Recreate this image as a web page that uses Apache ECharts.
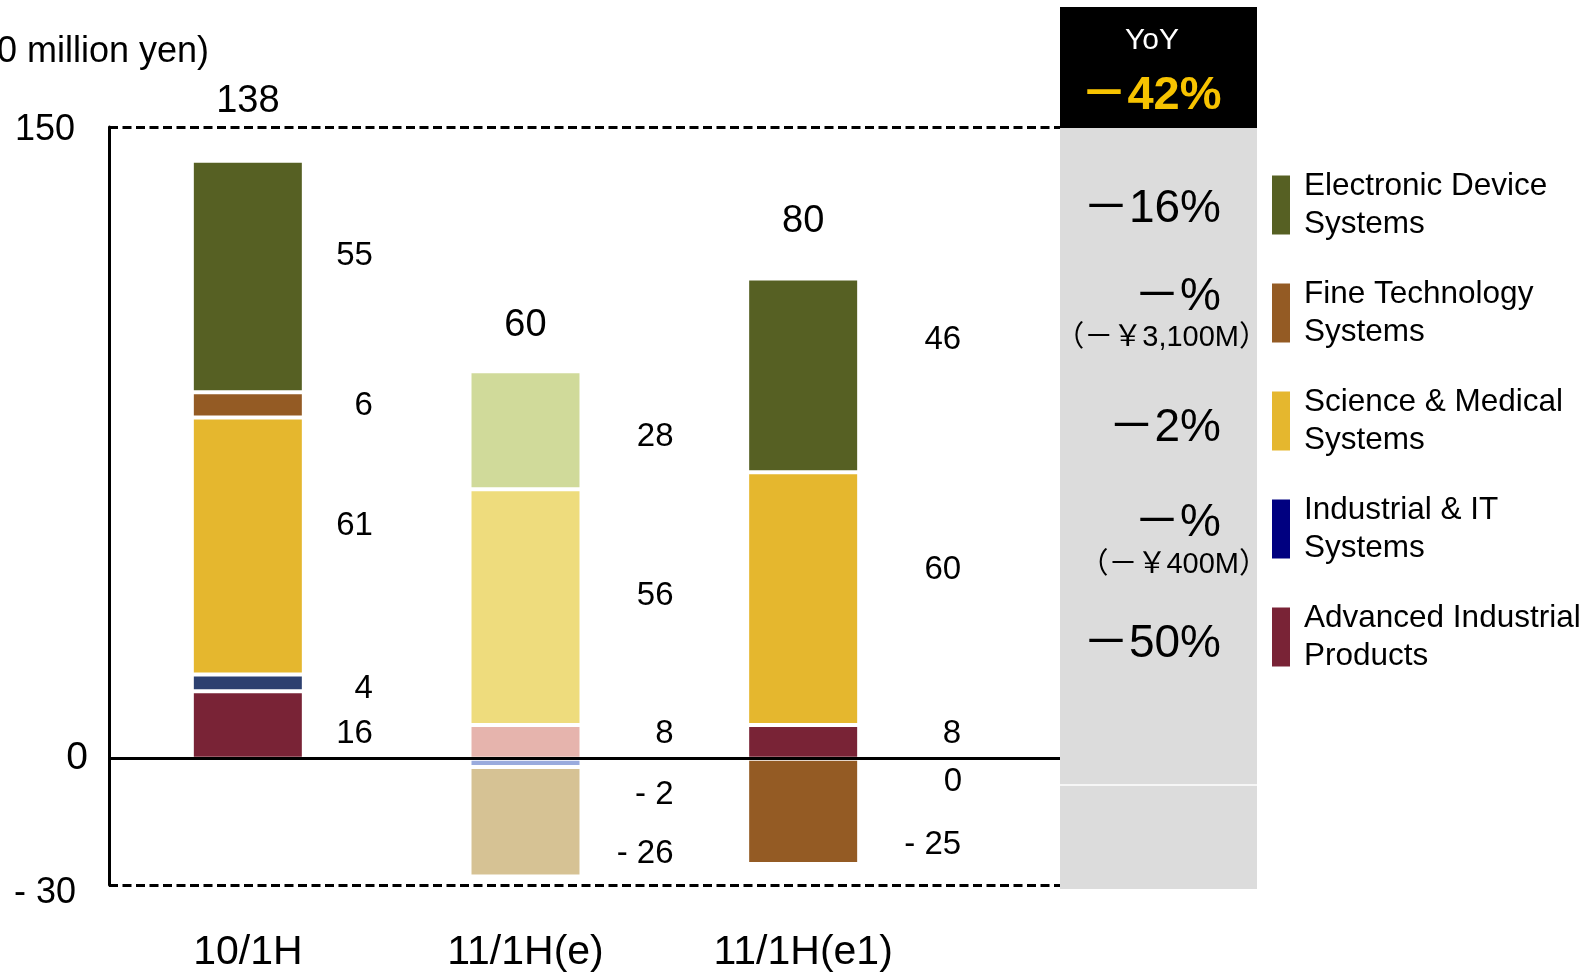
<!DOCTYPE html>
<html>
<head>
<meta charset="utf-8">
<script src="https://cdn.jsdelivr.net/npm/echarts@6/dist/echarts.min.js"></script>
<style>
  html, body { margin: 0; padding: 0; background: #fff; }
  #chart { width: 1593px; height: 973px; }
</style>
</head>
<body>
<div id="chart"></div>
<script>
// Operating income by segment, first half (100 million yen)
const periods = ['10/1H', '11/1H(e)', '11/1H(e1)'];
const advancedIndustrial = [16, 8, 8];
const industrialIT = [4, -2, 0];
const scienceMedical = [61, 56, 60];
const fineTechnology = [6, -26, -25];
const electronicDevice = [55, 28, 46];
const totals = [138, 60, 80];
const shownTicks = [150, 0, -30];

// Year-on-year panel
const yoyHeader = 'YoY';
const yoyTotal = '－42%';
const yoyLines = ['－16%', '－%', '（－￥3,100M）', '－2%', '－%', '（－￥400M）', '－50%'];

// ---- layout & styling ----
const FONT = "'Liberation Sans', Arial, 'Noto Sans CJK JP', sans-serif";
const segmentDefs = [
  { name: 'Advanced Industrial Products', values: advancedIndustrial, color: '#792336', pale: '#e6b4ad', legend: '#792336' },
  { name: 'Industrial & IT Systems',      values: industrialIT,       color: '#2d4070', pale: '#9aabdd', legend: '#000080' },
  { name: 'Science & Medical Systems',    values: scienceMedical,     color: '#e5b72e', pale: '#eedc7d', legend: '#e5b72e' },
  { name: 'Fine Technology Systems',      values: fineTechnology,     color: '#945b24', pale: '#d6c294', legend: '#945b24' },
  { name: 'Electronic Device Systems',    values: electronicDevice,   color: '#566023', pale: '#d0da9a', legend: '#566023' }
];
const legendOrder = ['Electronic Device Systems', 'Fine Technology Systems', 'Science & Medical Systems', 'Industrial & IT Systems', 'Advanced Industrial Products'];
const paleCategory = [false, true, false];          // estimate shown in light tints
const labelGap = [69, 92, 102];                      // value label right edge, px right of bar
const labelNudge = {                                 // vertical shift of value labels, px
  'Advanced Industrial Products': [9, -8, -8],
  'Industrial & IT Systems':      [6, 32, 57],
  'Science & Medical Systems':    [-20, -11, -29],
  'Fine Technology Systems':      [1, 32, 34],
  'Electronic Device Systems':    [-21, 7, -36]
};
const totalLift = [40, 27, 38];                      // total label distance above stack, px
const yoyRight = [1221, 1221, 1268, 1221, 1221, 1268, 1221];
const yoyY = [209, 297, 338, 428, 523, 565, 644];
const yoySize = [46, 46, 29, 46, 46, 29, 46];

const grid = { left: 109, top: 127, bottom: 88 };
const fmtValue = v => (v < 0 ? '- ' + Math.abs(v) : String(v));

const barSeries = segmentDefs.map(s => ({
  name: s.name,
  type: 'bar',
  stack: 'segments',
  barWidth: 112,
  xAxisIndex: 0,
  yAxisIndex: 0,
  itemStyle: { color: s.legend, borderColor: '#ffffff', borderWidth: 2 },
  data: s.values.map((v, i) => ({
    value: v,
    itemStyle: { color: paleCategory[i] ? s.pale : s.color },
    label: {
      show: true,
      position: 'right',
      align: 'right',
      distance: labelGap[i],
      offset: [0, labelNudge[s.name][i]],
      formatter: p => fmtValue(p.value),
      fontFamily: FONT,
      fontSize: 33,
      color: '#000'
    }
  }))
}));

// top of each positive stack, for the total labels
const stackTop = periods.map((_, i) =>
  segmentDefs.reduce((acc, s) => acc + Math.max(0, s.values[i]), 0));

const totalSeries = {
  type: 'scatter',
  xAxisIndex: 0,
  yAxisIndex: 0,
  symbolSize: 0,
  silent: true,
  z: 4,
  itemStyle: { opacity: 1 },
  data: periods.map((_, i) => ({
    value: [i, stackTop[i]],
    label: {
      show: true,
      position: 'top',
      distance: totalLift[i],
      formatter: () => String(totals[i]),
      fontFamily: FONT,
      fontSize: 38,
      lineHeight: 38,
      color: '#000',
      opacity: 1
    }
  }))
};

// frame: dashed top/bottom and solid zero line across the full plot width
const frameSeries = {
  type: 'line',
  xAxisIndex: 1,
  yAxisIndex: 1,
  data: [[0, 0]],
  symbol: 'none',
  silent: true,
  z: 6,
  lineStyle: { opacity: 0 },
  markLine: {
    silent: true,
    symbol: 'none',
    label: { show: false },
    animation: false,
    data: [
      { yAxis: 150, lineStyle: { color: '#000', width: 3, type: [9, 4.5] } },
      { yAxis: -30, lineStyle: { color: '#000', width: 3, type: [9, 4.5] } },
      { yAxis: 0, lineStyle: { color: '#000', width: 3, type: 'solid' } }
    ]
  }
};

const panelGraphics = [
  { type: 'rect', shape: { x: 1060, y: 128, width: 197, height: 761 }, style: { fill: '#dcdcdc' }, z: 1 },
  { type: 'rect', shape: { x: 1060, y: 7, width: 197, height: 121 }, style: { fill: '#000' }, z: 1 },
  { type: 'line', shape: { x1: 1060, y1: 785, x2: 1257, y2: 785 }, style: { stroke: '#fff', lineWidth: 1.5 }, z: 2 },
  { type: 'text', x: 1152, y: 41, style: { text: yoyHeader, fill: '#fff', font: '30px ' + FONT, textAlign: 'center', textVerticalAlign: 'middle' }, z: 3 },
  { type: 'text', x: 1151, y: 96, style: { text: yoyTotal, fill: '#f7c300', font: 'bold 47px ' + FONT, textAlign: 'center', textVerticalAlign: 'middle' }, z: 3 },
  { type: 'text', x: 209, y: 52, style: { text: '(100 million yen)', fill: '#000', font: '36px ' + FONT, textAlign: 'right', textVerticalAlign: 'middle' }, z: 3 }
].concat(yoyLines.map((t, i) => ({
  type: 'text',
  x: yoyRight[i],
  y: yoyY[i],
  style: { text: t, fill: '#000', font: yoySize[i] + 'px ' + FONT, textAlign: 'right', textVerticalAlign: 'middle' },
  z: 3
})));

const chart = echarts.init(document.getElementById('chart'), null, { renderer: 'canvas' });
chart.setOption({
  animation: false,
  backgroundColor: '#ffffff',
  textStyle: { fontFamily: FONT },
  grid: [
    { left: grid.left, top: grid.top, bottom: grid.bottom, width: 833 },
    { left: grid.left, top: grid.top, bottom: grid.bottom, width: 951 }
  ],
  xAxis: [
    {
      type: 'category',
      gridIndex: 0,
      data: periods,
      axisLine: { show: false, onZero: false },
      axisTick: { show: false },
      axisLabel: { fontFamily: FONT, fontSize: 41, lineHeight: 41, margin: 47, color: '#000' }
    },
    { type: 'value', gridIndex: 1, min: 0, max: 1, show: false }
  ],
  yAxis: [
    {
      type: 'value',
      gridIndex: 0,
      min: -30,
      max: 150,
      interval: 30,
      axisLine: { show: true, lineStyle: { color: '#000', width: 3 } },
      axisTick: { show: false },
      splitLine: { show: false },
      axisLabel: {
        margin: 21,
        color: '#000',
        formatter: v => {
          if (!shownTicks.includes(v)) return '';
          if (v === 0) return '{z|0}';
          if (v < 0) return '{n|' + fmtValue(v) + '}';
          return '{p|' + v + '}';
        },
        rich: {
          p: { fontFamily: FONT, fontSize: 36, padding: [6, 13, 0, 0], color: '#000' },
          z: { fontFamily: FONT, fontSize: 39, color: '#000' },
          n: { fontFamily: FONT, fontSize: 36, padding: [16, 12, 0, 0], color: '#000' }
        }
      }
    },
    { type: 'value', gridIndex: 1, min: -30, max: 150, show: false }
  ],
  legend: {
    orient: 'vertical',
    left: 1270,
    top: 167,
    padding: 0,
    itemWidth: 20,
    itemHeight: 61,
    itemGap: 32,
    icon: 'rect',
    selectedMode: false,
    data: legendOrder.map(n => ({
      name: n,
      itemStyle: { color: segmentDefs.find(s => s.name === n).legend }
    })),
    formatter: name => name.replace(/ (\S+)$/, '\n$1'),
    textStyle: { fontFamily: FONT, fontSize: 31.5, lineHeight: 38, color: '#000', padding: [0, 0, 0, 8] }
  },
  graphic: panelGraphics,
  series: barSeries.concat([totalSeries, frameSeries])
});
</script>
</body>
</html>
